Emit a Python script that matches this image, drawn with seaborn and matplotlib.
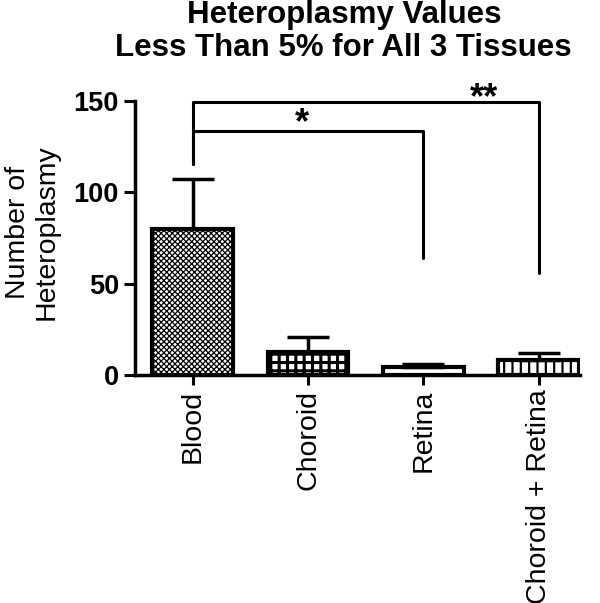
import pandas as pd
import matplotlib
matplotlib.use("Agg")
import matplotlib.pyplot as plt
import seaborn as sns

# data
tissues = ["Blood", "Choroid", "Retina", "Choroid + Retina"]
means = [80, 12.5, 4.4, 8.2]
errs = [27.5, 8.2, 1.6, 3.8]
hatches = ["xxxxxx", "++", "", "||"]
hatchWidths = [0.9, 2.2, 1.0, 1.6]

# significance brackets: (from, to, height, left end, right end, label, label x, label y)
brackets = [
    (0, 2, 133.6, 115.6, 64, "*", 0.95, 137.5),
    (0, 3, 149.5, 115.6, 55.6, "**", 2.53, 151.5),
]

sns.set_style("ticks")
plt.rcParams["font.family"] = ["Liberation Sans", "DejaVu Sans"]
plt.rcParams["hatch.linewidth"] = 1.6
plt.rcParams["hatch.color"] = "black"
for k in ["text.color", "axes.labelcolor", "xtick.color", "ytick.color", "axes.edgecolor"]:
    plt.rcParams[k] = "black"

dataSet = pd.DataFrame({"Tissue": tissues, "Value": means})

fig = plt.figure(figsize=(6, 6.03), dpi=100)
ax = fig.add_axes([0.225, 0.378, 0.742, 0.4545])

sns.barplot(data=dataSet, x="Tissue", y="Value", color="white",
            edgecolor="black", linewidth=3, width=0.7, errorbar=None, ax=ax)
for bar, h, hw in zip(ax.patches, hatches, hatchWidths):
    bar.set_hatch(h)
    bar.set_facecolor("white")
    if hasattr(bar, "set_hatch_linewidth"):
        bar.set_hatch_linewidth(hw)

ax.errorbar(range(len(tissues)), means, yerr=[[0] * len(errs), errs],
            fmt="none", ecolor="black", elinewidth=2.5, capsize=15, capthick=2.5)

for x1, x2, y, yl, yr, lab, lx, ly in brackets:
    ax.plot([x1, x1, x2, x2], [yl, y, y, yr], color="black", lw=2.2, clip_on=False)
    ax.text(lx, ly, lab, ha="center", va="center", fontsize=26, fontweight="bold")

ax.set_ylim(0, 150)
ax.set_xlim(-0.5, 3.36)
ax.set_yticks([0, 50, 100, 150])
ax.set_xlabel("")
ax.set_ylabel("Number of\nHeteroplasmy", fontsize=20.5, linespacing=1.1)
ax.yaxis.set_label_coords(-0.17, 0.52)
ax.tick_params(axis="y", labelsize=19.5, width=2.2, length=8)
ax.tick_params(axis="x", labelsize=20.5, width=2.2, length=7, labelrotation=90)
for lab in ax.get_yticklabels():
    lab.set_fontweight("bold")
sns.despine(ax=ax)
for s in ["left", "bottom"]:
    ax.spines[s].set_linewidth(2.5)

fig.text(0.573, 1 - 23.5 / 603, "Heteroplasmy Values",
         ha="center", va="baseline", fontsize=22.5, fontweight="bold")
fig.text(0.573, 1 - 56 / 603, "Less Than 5% for All 3 Tissues",
         ha="center", va="baseline", fontsize=22.5, fontweight="bold")

fig.savefig("out.png", dpi=100)
